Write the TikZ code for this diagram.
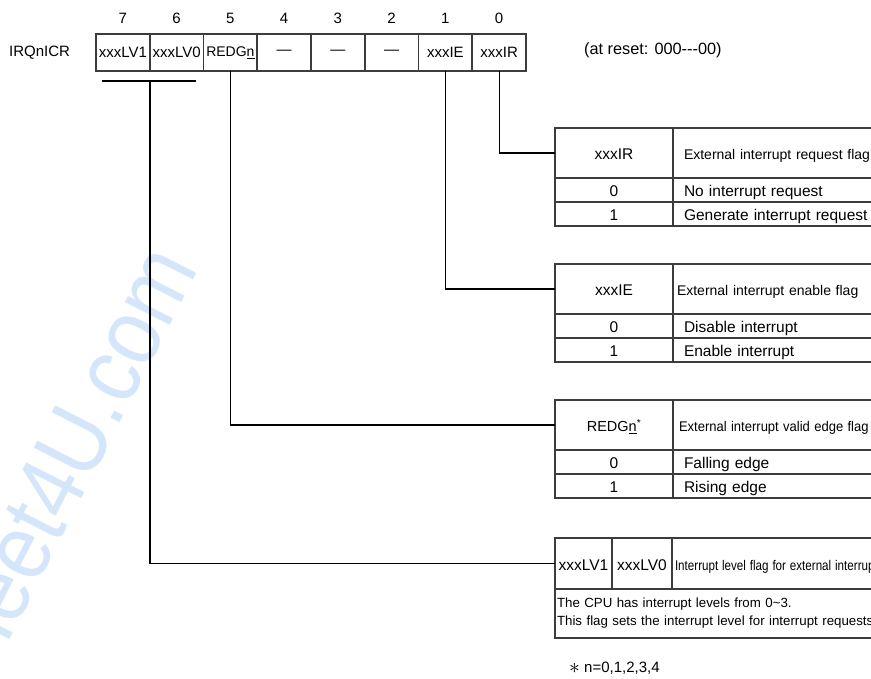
\documentclass[tikz,border=0pt]{standalone}
\usepackage{fontspec}
\setmainfont{Liberation Sans}
\definecolor{wmblue}{RGB}{212,230,252}
\definecolor{linegray}{RGB}{60,60,60}
\begin{document}
\begin{tikzpicture}[x=1pt,y=-1pt,
  reg/.style={draw=linegray, line width=1.5pt, minimum width=53.75pt, minimum height=37pt,
    inner sep=0pt, outer sep=0pt, font=\fontsize{15}{18}\selectfont},
  cell/.style={draw=linegray, line width=1.2pt, inner sep=0pt, outer sep=0pt,
    anchor=north west, font=\fontsize{15.5}{18}\selectfont},
  ts/.style={text height=14pt, text depth=0.5pt},
  key/.style={cell, ts, minimum width=118pt},
  desc/.style={cell, ts, text width=200pt, align=left, inner xsep=11pt},
  hdr/.style={font=\fontsize{14}{17}\selectfont},
  conn/.style={draw=black, line width=1.2pt},
  lbl/.style={font=\fontsize{15}{18}\selectfont, inner sep=0pt}]
\useasboundingbox (0,0) rectangle (871,679);
\clip (0,0) rectangle (871,679);

% watermark
\node[font=\fontsize{95}{100}\selectfont, text=wmblue, rotate=63, anchor=base east,
  inner sep=0pt] (wm) at (199,268) {\scalebox{0.88}[1]{DataSheet4U.com}};

% register
\node[lbl, anchor=west] (regname) at (9,53) {IRQnICR};
\node[reg] (b7) at (122.9,52.5) {xxxLV1};
\node[reg] (b6) at (176.6,52.5) {xxxLV0};
\node[reg, font=\fontsize{14}{17}\selectfont] (b5) at (230.4,52.5) {REDG\underline{n}};
\node[reg] (b4) at (284.1,52.5) {\textemdash};
\node[reg] (b3) at (337.9,52.5) {\textemdash};
\node[reg] (b2) at (391.6,52.5) {\textemdash};
\node[reg] (b1) at (445.4,52.5) {xxxIE};
\node[reg] (b0) at (499.1,52.5) {xxxIR};
\foreach \i/\x in {7/122.9,6/176.6,5/230.4,4/284.1,3/337.9,2/391.6,1/445.4,0/499.1}
  \node[lbl] (n\i) at (\x,18) {\i};
\node[lbl, anchor=west, font=\fontsize{16.3}{19}\selectfont] (reset) at (584,50) {(at reset: 000\mbox{-}\mbox{-}\mbox{-}00)};

% table 1: xxxIR
\node[key, minimum height=50pt] (t1k) at (555,128) {xxxIR};
\node[desc, hdr, minimum height=50pt] (t1d) at (673,128) {External interrupt request flag};
\node[key, minimum height=24pt] (t1r0k) at (555,178) {0};
\node[desc, minimum height=24pt] (t1r0d) at (673,178) {No interrupt request};
\node[key, minimum height=24pt] (t1r1k) at (555,202) {1};
\node[desc, minimum height=24pt] (t1r1d) at (673,202) {Generate interrupt request};

% table 2: xxxIE
\node[key, minimum height=50pt] (t2k) at (555,264) {xxxIE};
\node[desc, hdr, inner xsep=4pt, minimum height=50pt] (t2d) at (673,264) {External interrupt enable flag};
\node[key, minimum height=24pt] (t2r0k) at (555,314) {0};
\node[desc, minimum height=24pt] (t2r0d) at (673,314) {Disable interrupt};
\node[key, minimum height=24pt] (t2r1k) at (555,338) {1};
\node[desc, minimum height=24pt] (t2r1d) at (673,338) {Enable interrupt};

% table 3: REDGn
\node[key, minimum height=50pt, font=\fontsize{14.5}{17}\selectfont] (t3k) at (555,400) {REDG\underline{n}\textsuperscript{*}};
\node[desc, hdr, inner xsep=6pt, minimum height=50pt] (t3d) at (673,400) {\scalebox{0.93}[1]{External interrupt valid edge flag}};
\node[key, minimum height=24pt] (t3r0k) at (555,450) {0};
\node[desc, minimum height=24pt] (t3r0d) at (673,450) {Falling edge};
\node[key, minimum height=24pt] (t3r1k) at (555,474) {1};
\node[desc, minimum height=24pt] (t3r1d) at (673,474) {Rising edge};

% table 4: xxxLV1/xxxLV0
\node[cell, ts, minimum width=57pt, minimum height=51pt] (t4a) at (555,538) {xxxLV1};
\node[cell, ts, minimum width=60pt, minimum height=51pt] (t4b) at (612,538) {xxxLV0};
\node[desc, hdr, inner xsep=3pt, minimum height=51pt] (t4d) at (672,538) {\scalebox{0.83}[1]{Interrupt level flag for external interrupt}};
\node[cell, minimum height=49pt, text width=330pt, inner xsep=2pt, align=left,
  font=\fontsize{13.3}{18}\selectfont] (t4body) at (555,589)
  {The CPU has interrupt levels from 0\textasciitilde3.\\This flag sets the interrupt level for interrupt requests.};

% connectors
\draw[conn] (b0.south) |- (t1k.west);
\draw[conn] (b1.south) |- (t2k.west);
\draw[conn] (b5.south) |- (t3k.west);
\coordinate (brkL) at (102,81);
\coordinate (brkR) at (196,81);
\coordinate (brk) at (150,81);
\draw[conn] (brkL) -- (brkR);
\draw[conn] (brk) |- (t4a.west);

% footnote
\node[lbl, anchor=west] (foot) at (569,668) {\raisebox{-1pt}{\scalebox{1.5}{$\ast$}} n=0,1,2,3,4};
\end{tikzpicture}
\end{document}
